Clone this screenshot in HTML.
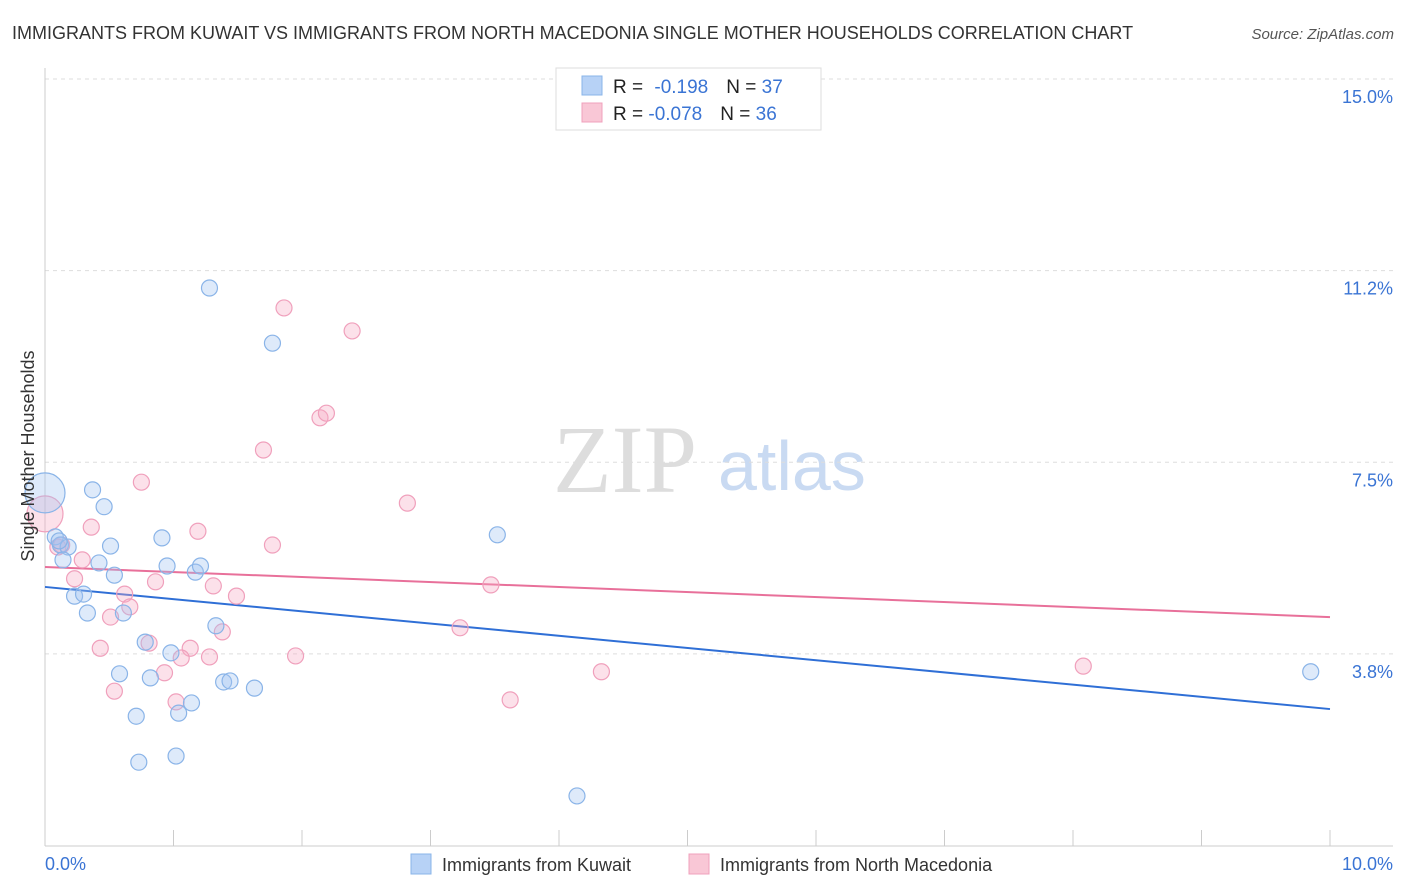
<!DOCTYPE html>
<html><head><meta charset="utf-8"><style>
body{margin:0;background:#fff;font-family:"Liberation Sans",sans-serif;}
svg{display:block}
</style></head><body>
<svg id="c" width="1406" height="892" viewBox="0 0 1406 892">
<text x="12" y="39" font-size="18" fill="#333">IMMIGRANTS FROM KUWAIT VS IMMIGRANTS FROM NORTH MACEDONIA SINGLE MOTHER HOUSEHOLDS CORRELATION CHART</text>
<text x="1394" y="39" font-size="15" fill="#555" font-style="italic" text-anchor="end">Source: ZipAtlas.com</text>
<g>
<text x="553" y="492" font-size="96" font-family="Liberation Serif,serif" fill="#ddd">ZIP</text>
<text x="718" y="490" font-size="70" fill="#c9daf2">atlas</text>
</g>
<g id="grid"></g>
<g id="axes"></g>
<g id="lines"></g>
<g id="pts"></g>
<text transform="translate(34,456) rotate(-90)" font-size="18" fill="#333" text-anchor="middle">Single Mother Households</text>
<g>
<rect x="556" y="68" width="265" height="62" fill="#fff" stroke="#ddd"/>
<rect x="582" y="76" width="20" height="19" fill="#b7d2f6" stroke="#8ab4e8"/>
<rect x="582" y="103" width="20" height="19" fill="#f9c7d6" stroke="#f0a0bc"/>
<text x="613" y="93" font-size="19" fill="#222">R = <tspan fill="#3a74d4" dx="6">-0.198</tspan><tspan dx="18" fill="#222">N = </tspan><tspan fill="#3a74d4">37</tspan></text>
<text x="613" y="120" font-size="19" fill="#222">R = <tspan fill="#3a74d4">-0.078</tspan><tspan dx="18" fill="#222">N = </tspan><tspan fill="#3a74d4">36</tspan></text>
</g>
<g>
<rect x="411" y="854" width="20" height="20" fill="#b7d2f6" stroke="#8ab4e8"/>
<text x="442" y="871" font-size="18" fill="#333">Immigrants from Kuwait</text>
<rect x="689" y="854" width="20" height="20" fill="#f9c7d6" stroke="#f0a0bc"/>
<text x="720" y="871" font-size="18" fill="#333">Immigrants from North Macedonia</text>
</g>
</svg>
<script>
const yTicks=[3.8,7.5,11.2,15.0];
const yTickVals=[3.75,7.5,11.25,15.0];
const xLabels=["0.0%","10.0%"];
const kuwaitX=[0,1.28,1.77,0.37,0.46,0.08,0.12,0.18,0.14,0.51,0.91,0.42,0.54,0.95,1.17,1.21,0.23,0.30,0.33,0.61,1.33,0.78,0.98,0.58,0.82,1.39,1.44,1.63,1.14,1.04,0.71,0.73,1.02,4.14,3.52,9.85,0.11];
const kuwaitY=[6.90,10.91,9.83,6.96,6.63,6.04,5.88,5.84,5.59,5.86,6.02,5.53,5.29,5.47,5.35,5.47,4.88,4.92,4.55,4.55,4.30,3.98,3.77,3.36,3.28,3.20,3.22,3.08,2.79,2.59,2.53,1.63,1.75,0.97,6.08,3.40,5.96];
const macX=[0,1.86,2.39,2.14,2.19,1.70,0.75,2.82,0.36,1.19,0.10,1.77,0.29,0.23,0.86,1.31,3.47,1.49,0.62,0.66,0.51,1.38,0.81,3.23,0.43,1.13,1.06,1.28,1.95,0.93,0.54,1.02,3.62,4.33,8.08,0.13];
const macY=[6.49,10.52,10.07,8.37,8.46,7.74,7.11,6.70,6.23,6.15,5.84,5.88,5.59,5.22,5.16,5.08,5.10,4.88,4.92,4.67,4.47,4.18,3.96,4.26,3.86,3.86,3.67,3.69,3.71,3.38,3.02,2.81,2.85,3.40,3.51,5.88];
const kuwaitTrend=[5.06,2.67];
const macTrend=[5.45,4.47];
const X0=45,X1=1330,Y15=79,PX=51.1;
const sx=v=>X0+v*(X1-X0)/10;
const sy=v=>Y15+(15-v)*PX;
const NS="http://www.w3.org/2000/svg";
function mk(t,p,a){const e=document.createElementNS(NS,t);for(const k in a)e.setAttribute(k,a[k]);p.appendChild(e);return e;}
const grid=document.getElementById('grid'),axes=document.getElementById('axes');
yTickVals.forEach((v,i)=>{
 const l=mk('line',grid,{x1:45,x2:1393,y1:sy(v),y2:sy(v),stroke:'#ddd','stroke-dasharray':'4,4'});
 
 
 const t=mk('text',axes,{x:1393,y:sy(v)+24,'font-size':18,fill:'#3a74d4','text-anchor':'end'});
 t.textContent=yTicks[i].toFixed(1)+'%';
 
 
});
mk('line',axes,{x1:45,x2:45,y1:68,y2:846,stroke:'#ccc'});
mk('line',axes,{x1:45,x2:1393,y1:846,y2:846,stroke:'#ccc'});
for(let i=0;i<=10;i++){const t=mk('line',axes,{x1:sx(i),x2:sx(i),y1:830,y2:846,stroke:'#ccc'});
 
 }
const xl0=mk('text',axes,{x:45,y:870,'font-size':18,fill:'#3a74d4'});xl0.textContent=xLabels[0];

const xl1=mk('text',axes,{x:1393,y:870,'font-size':18,fill:'#3a74d4','text-anchor':'end'});xl1.textContent=xLabels[1];

const pts=document.getElementById('pts');
function series(xs,ys,fill,stroke,name,bigR){
 xs.forEach((x,i)=>{const c=mk('circle',pts,{cx:sx(x),cy:sy(ys[i]),r:(i===0?bigR:8),fill:fill,stroke:stroke,'stroke-width':1.2});
 
 });
}
series(macX,macY,'rgba(245,170,195,0.35)','#f0a0bc','point-macedonia',18);
series(kuwaitX,kuwaitY,'rgba(160,196,240,0.35)','#8ab4e8','point-kuwait',20);
const lines=document.getElementById('lines');
const lb=mk('line',lines,{x1:sx(0),x2:sx(10),y1:sy(kuwaitTrend[0]),y2:sy(kuwaitTrend[1]),stroke:'#2f6fd6','stroke-width':2});


const lp=mk('line',lines,{x1:sx(0),x2:sx(10),y1:sy(macTrend[0]),y2:sy(macTrend[1]),stroke:'#e8709a','stroke-width':2});


</script>
</body></html>
